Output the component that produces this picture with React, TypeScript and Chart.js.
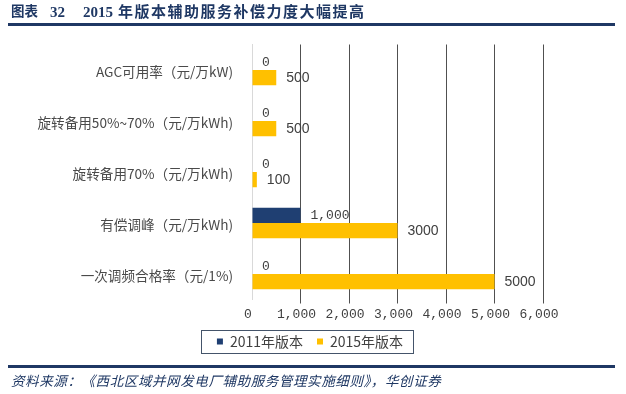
import React, { useEffect, useRef } from "react";
import { Chart, registerables } from "chart.js";

Chart.register(...registerables);

const categories = [
  "AGC可用率（元/万kW)",
  "旋转备用50%~70%（元/万kWh)",
  "旋转备用70%（元/万kWh)",
  "有偿调峰（元/万kWh)",
  "一次调频合格率（元/1%)",
];
const seriesNames = ["2011年版本", "2015年版本"];
const values2011 = [0, 0, 0, 1000, 0];
const values2015 = [500, 500, 100, 3000, 5000];
const xTicks = [0, 1000, 2000, 3000, 4000, 5000, 6000];

const NAVY = "#1F3864";
const TEXT = "#404040";

const dataLabelPlugin = {
  id: "dataLabels",
  afterDatasetsDraw(chart: any) {
    const ctx = chart.ctx;
    ctx.save();
    ctx.textBaseline = "middle";
    ctx.textAlign = "left";
    ctx.fillStyle = TEXT;
    chart.data.datasets.forEach((ds: any, di: number) => {
      const meta = chart.getDatasetMeta(di);
      ctx.font = di === 0 ? "13px 'Liberation Mono'" : "14px 'Liberation Sans'";
      meta.data.forEach((el: any, i: number) => {
        const v = ds.data[i];
        const txt = di === 0 ? v.toLocaleString("en-US") : String(v);
        ctx.fillText(txt, el.x + 10, el.y + 0.5);
      });
    });
    ctx.restore();
  },
};

const legendBorderPlugin = {
  id: "legendBorder",
  afterDraw(chart: any) {
    const lg = chart.legend;
    if (!lg || !lg.legendHitBoxes || !lg.legendHitBoxes.length) return;
    const hb = lg.legendHitBoxes;
    const first = hb[0];
    const last = hb[hb.length - 1];
    const cy = first.top + first.height / 2;
    const left = first.left - 16;
    const right = last.left + last.width + 10;
    const ctx = chart.ctx;
    ctx.save();
    ctx.strokeStyle = "#44546A";
    ctx.lineWidth = 1;
    ctx.strokeRect(Math.round(left) + 0.5, Math.round(cy - 11.5) + 0.5, Math.round(right - left), 23);
    ctx.restore();
  },
};

export default function App() {
  const ref = useRef<HTMLCanvasElement>(null);
  useEffect(() => {
    if (!ref.current) return;
    const chart = new Chart(ref.current, {
      type: "bar",
      data: {
        labels: categories,
        datasets: [
          {
            label: seriesNames[0],
            data: values2011,
            backgroundColor: "#1F3F72",
            categoryPercentage: 0.6,
            barPercentage: 1.0,
            yAxisID: "y",
          },
          {
            label: seriesNames[1],
            data: values2015,
            backgroundColor: "#FFC000",
            categoryPercentage: 0.6,
            barPercentage: 1.0,
            yAxisID: "y",
          },
        ],
      },
      options: {
        indexAxis: "y",
        animation: false,
        responsive: false,
        maintainAspectRatio: false,
        layout: { padding: { top: 44.5, bottom: 35.5, left: 0, right: 6 } },
        plugins: {
          title: { display: false },
          tooltip: { enabled: false },
          legend: {
            position: "bottom",
            labels: {
              boxWidth: 6,
              boxHeight: 6,
              padding: 14,
              color: TEXT,
              font: { family: "'Noto Sans CJK SC'", size: 14 },
            },
          },
        },
        scales: {
          x: {
            type: "linear",
            min: 0,
            max: 6000,
            afterBuildTicks: (s: any) => {
              s.ticks = xTicks.map((v) => ({ value: v }));
            },
            ticks: {
              color: TEXT,
              font: { family: "'Liberation Mono'", size: 13 },
              padding: 3,
              labelOffset: -4,
              callback: (v: any) => Number(v).toLocaleString("en-US"),
            },
            grid: {
              color: (c: any) => (c.tick && c.tick.value === 0 ? "rgba(0,0,0,0)" : "#505050"),
              lineWidth: 1,
              drawTicks: true,
              tickLength: 4,
            },
            border: { display: false },
            afterFit: (s: any) => {
              s.height = 21;
            },
          },
          y: {
            type: "category",
            position: "left",
            ticks: {
              color: "#4A4A4A",
              font: { family: "'Noto Sans CJK SC'", size: 13.6 },
              padding: 19,
              labelOffset: 1.5,
            },
            grid: { display: false, drawTicks: false },
            border: { display: true, color: "#D9D9D9", width: 1 },
            afterFit: (s: any) => {
              s.width = 252;
            },
          },
          y2: {
            type: "linear",
            position: "right",
            display: true,
            grid: { display: false, drawTicks: false },
            ticks: { display: false },
            border: { display: false },
            afterFit: (s: any) => {
              s.width = 77;
            },
          },
        },
      },
      plugins: [dataLabelPlugin, legendBorderPlugin],
    } as any);
    return () => chart.destroy();
  }, []);

  const titleFont = "'Liberation Serif', 'Noto Sans CJK SC', serif";
  return (
    <div style={{ position: "absolute", left: 0, top: 0, width: 626, height: 394, background: "#fff" }}>
      <canvas ref={ref} width={626} height={394} style={{ position: "absolute", left: 0, top: 0, width: 626, height: 394 }} />
      <div style={{ position: "absolute", left: 0, top: 0, width: 626, height: 30, fontFamily: titleFont, fontWeight: "bold", fontSize: 15, color: NAVY, lineHeight: "24px", whiteSpace: "pre" }}>
        <span style={{ position: "absolute", left: 11, top: 0, fontSize: 13.5, letterSpacing: 0 }}>图表</span>
        <span style={{ position: "absolute", left: 50, top: 0 }}>32</span>
        <span style={{ position: "absolute", left: 83, top: 0 }}>2015</span>
        <span style={{ position: "absolute", left: 118, top: 0, letterSpacing: 1.5 }}>年版本辅助服务补偿力度大幅提高</span>
      </div>
      <div style={{ position: "absolute", left: 8, top: 23, width: 607, height: 3, background: NAVY }} />
      <div style={{ position: "absolute", left: 8, top: 365, width: 607, height: 3, background: NAVY }} />
      <div style={{ position: "absolute", left: 11, top: 370, fontFamily: "'Noto Sans CJK SC', sans-serif", fontStyle: "italic", fontSize: 13.5, letterSpacing: 0.6, color: NAVY, lineHeight: "20px", whiteSpace: "pre" }}>
        资料来源：《西北区域并网发电厂辅助服务管理实施细则》，华创证券
      </div>
    </div>
  );
}
